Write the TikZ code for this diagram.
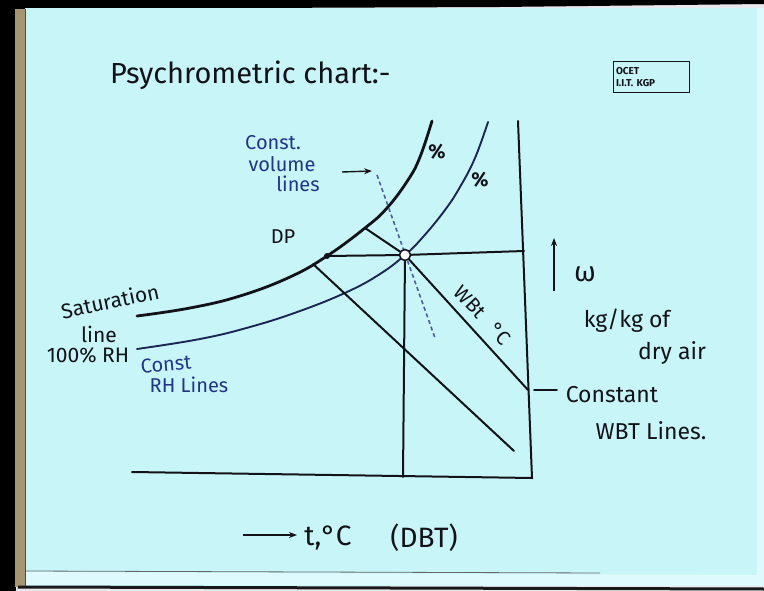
\documentclass[tikz,border=0pt]{standalone}
\usepackage{fontspec}
\setmainfont{Fira Sans}
\usetikzlibrary{arrows.meta}
\definecolor{paper}{RGB}{200,246,248}
\definecolor{paperlight}{RGB}{222,250,252}
\definecolor{ink}{RGB}{18,18,24}
\definecolor{blueink}{RGB}{32,52,140}
\definecolor{rhink}{RGB}{28,38,85}
\definecolor{frametan}{RGB}{168,150,112}
\definecolor{bgwhite}{RGB}{232,232,238}
\begin{document}
\begin{tikzpicture}[x=1pt,y=-1pt,
  hand/.style={text=ink, inner sep=0pt},
  bluehand/.style={text=blueink, inner sep=0pt},
  satline/.style={draw=ink, line width=2.8pt, line cap=round},
  rhline/.style={draw=rhink, line width=1.9pt, line cap=round},
  chartline/.style={draw=ink, line width=2pt, line cap=round},
  volline/.style={draw=blueink!80, line width=1.6pt, dash pattern=on 4pt off 3pt},
  arr/.style={draw=ink, line width=1.8pt, -{Stealth[length=8pt,width=6pt]}},
  sz/.style={font=\fontsize{#1}{#1}\selectfont}
]
\useasboundingbox (0,0) rectangle (764,591);
% ---- background (slide) ----
\fill[bgwhite] (0,0) rectangle (764,591);
\fill[black] (0,0) rectangle (16,591);
\fill[frametan] (15,9) rectangle (25,587);
\fill[black] (0,0) -- (764,0) -- (764,4) -- (500,7) -- (0,9) -- cycle;
\fill[paper] (25,8) rectangle (764,586);
\fill[paperlight] (25,572) -- (764,575) -- (764,586) -- (25,585) -- cycle;
\fill[paperlight] (757,8) rectangle (764,586);
\draw[black!60, line width=0.8pt] (25,571) -- (600,573);
\draw[black!70, line width=0.8pt] (25,9) -- (25,586);
\draw[black!90, line width=3pt] (18,587) -- (764,589);

% ---- title and logo ----
\node[hand, sz=29, anchor=base west] (title) at (110,84) {Psychrometric chart:-};
\node[draw=ink, line width=1pt, text=ink, align=left, text width=70pt,
      minimum height=31pt, inner xsep=3pt, inner ysep=2pt,
      font=\fontsize{10}{12}\selectfont\bfseries] (logo) at (651,77) {OCET\\I.I.T. KGP};

% ---- named points ----
\coordinate (dp) at (327,256);
\coordinate (hr) at (524,251);
\coordinate (wA) at (365,228);
\coordinate (wB) at (528,390);
\coordinate (wC) at (313,264);
\coordinate (wD) at (514,451);
\coordinate (vb) at (403,477);
\coordinate (bl) at (132,472);
\coordinate (br) at (532,478);
\coordinate (rt) at (518,121);
\coordinate (cvA) at (377,175);
\coordinate (cvB) at (435,338);

% ---- curves ----
\draw[satline] plot[smooth, tension=0.7] coordinates
  {(137,316) (190,308) (240,296) (290,277) (dp) (wA) (387,208) (408,180) (420,157) (432,121)};
\draw[rhline] plot[smooth, tension=0.7] coordinates
  {(137,349) (200,339) (250,327) (300,311) (347,292) (380,274) (405,255) (423,237) (445,210) (460,187) (475,158) (488,122)};
\draw[volline] (cvA) -- (cvB);

% ---- state point ----
\node[circle, draw=ink, fill=white, line width=1.6pt, inner sep=0pt, minimum size=11pt] (sp) at (405,255) {};
\fill[ink] (dp) circle (3pt);

% ---- chart lines ----
\draw[chartline] (bl) -- (br) -- (rt);
\draw[chartline] (dp) -- (sp);
\draw[chartline] (sp) -- (hr);
\draw[chartline] (sp) -- (vb);
\draw[chartline] (wA) -- (sp);
\draw[chartline] (sp) -- (wB);
\draw[chartline] (wC) -- (wD);

% ---- labels ----
\node[bluehand, sz=20] (cv1) at (273,143) {Const.};
\node[bluehand, sz=20] (cv2) at (282,164) {volume};
\node[bluehand, sz=20] (cv3) at (298,184) {lines};
\coordinate (cvarrA) at (342,172);
\coordinate (cvarrB) at (372,171);
\draw[arr, line width=1.4pt] (cvarrA) -- (cvarrB);

\node[hand, sz=20] (dplab) at (283,237) {DP};
\node[hand, font=\bfseries\fontsize{20}{20}\selectfont] (pc1) at (437,152) {\%};
\node[hand, font=\bfseries\fontsize{20}{20}\selectfont] (pc2) at (480,180) {\%};
\node[hand, sz=20, rotate=-47] (wbt1) at (470,302) {WBt};
\node[hand, sz=20, rotate=-47] (wbt2) at (500,334) {\textdegree C};

\coordinate (omA) at (554,291);
\coordinate (omB) at (554,238);
\draw[arr] (omA) -- (omB);
\node[hand, sz=28] (omega) at (585,274) {ω};
\node[hand, sz=23] (kg) at (627,321) {kg/kg of};
\node[hand, sz=23] (dry) at (672,353) {dry air};
\coordinate (dashA) at (534,390);
\coordinate (dashB) at (557,390);
\draw[chartline, line width=1.6pt] (dashA) -- (dashB);
\node[hand, sz=23] (const) at (612,395) {Constant};
\node[hand, sz=23] (wbtl) at (651,431) {WBT Lines.};

\node[hand, sz=21, rotate=12] (sat) at (110,301) {Saturation};
\node[hand, sz=21] (line) at (99,334) {line};
\node[hand, sz=21] (rh100) at (88,355) {100\% RH};
\node[bluehand, sz=20, rotate=5] (crh1) at (166,364) {Const};
\node[bluehand, sz=20] (crh2) at (189,385) {RH Lines};

\coordinate (tA) at (243,535);
\coordinate (tB) at (297,535);
\draw[arr] (tA) -- (tB);
\node[hand, sz=28] (tlab) at (328,538) {t,\textdegree C};
\node[hand, sz=28] (dbt) at (424,538) {(DBT)};
\end{tikzpicture}
\end{document}
